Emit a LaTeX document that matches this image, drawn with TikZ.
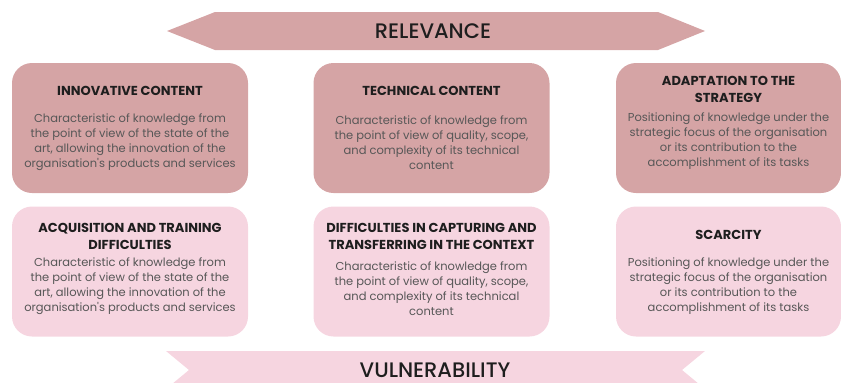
\documentclass[tikz,border=0pt]{standalone}
\usepackage{fontspec}
\setmainfont{Poppins}
\newfontfamily\bannerfont{Poppins Medium}
\usepackage{xcolor}
\definecolor{roseDark}{HTML}{D5A4A5}
\definecolor{rosePale}{HTML}{F6D5E0}
\definecolor{titleInk}{HTML}{1E1E1E}
\definecolor{bodyInk}{HTML}{575757}
\tikzset{
    top/.style={fill=roseDark},
    bottom/.style={fill=rosePale},
    box/.style={rounded corners=20,minimum width=236,minimum height=130,inner sep=0},
    cardtitle/.style={align=center,inner sep=0,text=titleInk,
        font=\fontsize{13}{17}\selectfont\bfseries},
    cardbody/.style={align=center,inner sep=0,text=bodyInk,
        font=\fontsize{11.5}{15}\selectfont},
    banner/.style={inner sep=0,text=titleInk,font=\fontsize{21}{24}\selectfont\bannerfont},
}
\newcommand{\card}[8] {
    \node[box,#2] (#1) at (#3,#4) {};
    \node[cardtitle] (#1title) at (#3,#5) {#7};
    \node[cardbody] (#1body) at (#3,#6) {#8};
}

\begin{document}
\begin{tikzpicture}[x=1pt,y=-1pt]
    \useasboundingbox (0,0) rectangle (841,383);
    \fill[roseDark] (167,31) -- (215,12) -- (658,12) -- (705,31)
        -- (658,50) -- (215,50) -- cycle;
    \fill[rosePale] (166,351) -- (705,351) -- (682,370) -- (705,389)
        -- (166,389) -- (189,370) -- cycle;
    \node[banner] (relevance) at (433,31) {RELEVANCE};
    \node[banner] (vulnerability) at (435,370) {VULNERABILITY};
    \card{innov}{top}{130}{128}{91}{142.5}{INNOVATIVE CONTENT}
        {Characteristic of knowledge from\\the point of view of the state of the\\art, allowing the innovation of the\\organisation\textquotesingle s products and services}
    \card{tech}{top}{431.5}{128}{91}{142.5}{TECHNICAL CONTENT}
        {Characteristic of knowledge from\\the point of view of quality, scope,\\and complexity of its technical\\content}
    \card{adapt}{top,minimum width=225}{728.5}{128}{89.5}{141}{ADAPTATION TO THE\\STRATEGY}
        {Positioning of knowledge under the\\strategic focus of the organisation\\or its contribution to the\\accomplishment of its tasks}
    \card{acqu}{bottom}{130}{271.5}{236}{286.5}{ACQUISITION AND TRAINING\\DIFFICULTIES}
        {Characteristic of knowledge from\\the point of view of the state of the\\art, allowing the innovation of the\\organisation\textquotesingle s products and services}
    \card{diff}{bottom}{431.5}{271.5}{236.5}{289}{DIFFICULTIES IN CAPTURING AND\\TRANSFERRING IN THE CONTEXT}
        {Characteristic of knowledge from\\the point of view of quality, scope,\\and complexity of its technical\\content}
    \card{scarce}{bottom,minimum width=225}{728.5}{271.5}{235}{286.5}{SCARCITY}
        {Positioning of knowledge under the\\strategic focus of the organisation\\or its contribution to the\\accomplishment of its tasks}
\end{tikzpicture}
\end{document}
